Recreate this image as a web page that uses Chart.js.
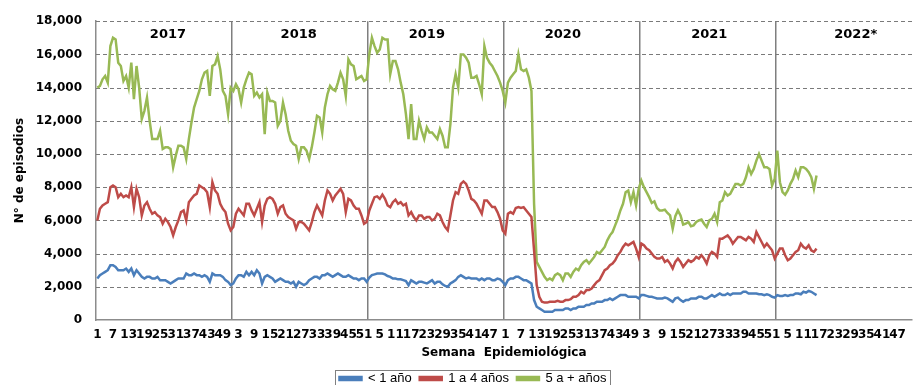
<!DOCTYPE html>
<html>
<head>
<meta charset="utf-8">
<script src="https://cdn.jsdelivr.net/npm/chart.js@4.4.1/dist/chart.umd.min.js"></script>
<style>
  html, body { margin: 0; padding: 0; background: #fff; }
</style>
</head>
<body>
<canvas id="chart" width="923" height="385"></canvas>
<script>
// years on the axis, 52 epidemiological weeks each
const years = ['2017', '2018', '2019', '2020', '2021', '2022*']
const weeksPerYear = 52

// < 1 año
const menor1_2017 = [2500,2700,2800,2900,3000,3300,3300,3200,3000,3000,3000,3100,2900,3100,2700,3000,2800,2600,2500,2600,2600,2500,2500,2600,2400,2400,2400,2300,2200,2300,2400,2500,2500,2500,2800,2700,2700,2800,2700,2700,2600,2700,2600,2300,2800,2700,2700,2700,2600,2400,2300,2100]
const menor1_2018 = [2200,2500,2700,2700,2600,2900,2700,2900,2700,3000,2800,2200,2600,2700,2600,2500,2300,2400,2500,2400,2300,2300,2200,2300,2000,2300,2200,2100,2200,2400,2500,2600,2600,2500,2700,2700,2800,2700,2600,2700,2800,2700,2600,2600,2700,2600,2500,2500,2400,2500,2500,2300]
const menor1_2019 = [2550,2700,2750,2800,2800,2800,2750,2650,2600,2500,2500,2450,2450,2400,2350,2100,2400,2300,2200,2300,2300,2250,2200,2300,2400,2200,2300,2300,2150,2050,2000,2200,2300,2400,2600,2700,2600,2500,2550,2500,2500,2500,2400,2500,2400,2500,2500,2400,2400,2500,2450,2300]
const menor1_2020 = [2100,2400,2500,2500,2600,2600,2500,2400,2400,2300,2200,1200,800,700,600,500,500,500,500,600,600,600,600,700,700,600,700,700,800,800,800,900,900,1000,1000,1100,1100,1100,1200,1200,1300,1200,1300,1400,1500,1500,1500,1400,1400,1400,1400,1300]
const menor1_2021 = [1500,1500,1450,1400,1400,1350,1300,1300,1300,1350,1300,1200,1100,1300,1350,1200,1100,1200,1200,1300,1300,1300,1400,1400,1300,1300,1400,1500,1400,1500,1600,1500,1500,1600,1500,1600,1600,1600,1600,1700,1700,1600,1600,1600,1600,1550,1550,1500,1550,1500,1400,1350]
const menor1_2022 = [1500,1450,1450,1500,1450,1500,1500,1600,1600,1550,1700,1650,1750,1700,1600,1500]

// 1 a 4 años
const de1a4_2017 = [6000,6700,6900,7000,7100,8000,8100,8000,7400,7600,7400,7500,7400,8000,6800,7900,7400,6300,6900,7100,6700,6400,6500,6300,6200,5800,6100,5900,5600,5100,5600,6000,6500,6600,6000,7100,7300,7500,7600,8100,8000,7900,7700,6800,8300,7800,7600,7000,6700,6500,5800,5400]
const de1a4_2018 = [5600,6400,6700,6500,6300,7000,7000,6600,6300,6700,7100,5900,6900,7300,7400,7300,7000,6400,6800,6900,6400,6200,6100,6000,5500,5900,5900,5800,5600,5400,5900,6500,6900,6600,6300,7200,7800,7600,7200,7500,7700,7900,7600,6500,7300,7200,6900,6700,6700,6300,5800,5900]
const de1a4_2019 = [6600,7000,7400,7450,7300,7550,7300,6900,6800,7100,7250,7000,7100,6900,7000,6300,6500,6200,6000,6300,6300,6100,6200,6200,6000,6100,6400,6300,5900,5600,5400,6300,7200,7700,7600,8200,8350,8200,7800,7300,7200,7000,6700,6400,7200,7200,7000,6800,6800,6500,6100,5400]
const de1a4_2020 = [5200,6400,6500,6400,6750,6800,6750,6800,6600,6400,6200,4200,2100,1400,1100,1050,1050,1100,1100,1100,1150,1100,1100,1200,1200,1250,1400,1400,1500,1700,1600,1800,1800,1900,2100,2300,2400,2700,3000,3100,3300,3400,3600,3900,4100,4400,4600,4500,4600,4700,4300,3800]
const de1a4_2021 = [4600,4500,4300,4200,4000,3800,3700,3700,3800,3500,3600,3400,3100,3500,3700,3500,3200,3400,3600,3500,3600,3800,3700,3900,3700,3400,3900,4100,4000,3800,4900,4900,5000,5100,4900,4600,4800,5000,5000,4900,4800,5000,4900,4700,5300,5000,4700,4400,4600,4400,4200,3700]
const de1a4_2022 = [4000,4300,4300,3900,3600,3700,3900,4100,4200,4600,4400,4300,4500,4200,4100,4300]

// 5 a + años
const de5mas_2017 = [14000,14100,14500,14700,14300,16500,17000,16900,15500,15300,14400,14700,14000,15500,13300,15300,14000,12100,12600,13400,12000,10900,10900,10900,11400,10300,10400,10400,10300,9200,9900,10500,10500,10400,9700,10900,11900,12800,13300,13800,14500,14900,15000,13500,15300,15400,15900,15100,13800,13500,12400,14000]
const de5mas_2018 = [13800,14200,13900,13100,14000,14500,14900,14800,13500,13700,13400,13600,11200,13700,13200,13200,13100,11700,12000,13100,12400,11400,10800,10600,10500,9700,10400,10400,10200,9700,10400,11300,12300,12200,11300,12800,13600,14100,13900,13800,14300,14900,14500,13500,15700,15400,15300,14500,14600,14700,14400,14500]
const de5mas_2019 = [16000,17000,16500,16100,16300,17000,16900,16900,14800,15600,15600,15100,14300,13600,12400,10900,13000,10900,10900,12000,11400,10900,11600,11300,11300,11100,10900,11500,11100,10400,10400,11800,14000,14800,14000,16000,16000,15800,15500,14600,14600,14700,14200,13600,16500,15800,15500,15300,15000,14700,14300,13800]
const de5mas_2020 = [13100,14300,14600,14800,15000,16000,15100,15000,15100,14600,13800,7000,3500,3200,2900,2600,2400,2500,2400,2700,2800,2700,2400,2800,2800,2600,2900,3100,3000,3300,3500,3600,3400,3600,3800,4100,4000,4200,4400,4800,5100,5300,5700,6100,6600,7000,7700,7800,7100,7700,6900,7900]
const de5mas_2021 = [8400,8000,7700,7400,7050,7150,6750,6600,6600,6650,6450,6300,5500,6250,6600,6300,5750,5800,5900,5650,5700,5900,6000,6050,5800,5600,6000,6100,6400,5900,7100,7200,7700,7500,7600,7900,8200,8200,8100,8200,8600,9200,8800,9100,9600,10000,9600,9200,9200,9100,8100,8500]
const de5mas_2022 = [10200,8300,7700,7550,7800,8200,8500,9000,8600,9200,9200,9100,8900,8600,7900,8700]

// week of each year where its name is written
const yearLabelWeek = [28, 26, 23, 23, 27, 31]

const labels = []
const weekNums = []
years.forEach(y => {
  for (let w = 1; w <= weeksPerYear; w++) {
    labels.push(y.replace('*', '') + '-' + w)
    weekNums.push(w)
  }
})
const yearStarts = years.map((y, i) => i * weeksPerYear).filter(i => i > 0)

const menor1 = [].concat(menor1_2017, menor1_2018, menor1_2019, menor1_2020, menor1_2021, menor1_2022)
const de1a4 = [].concat(de1a4_2017, de1a4_2018, de1a4_2019, de1a4_2020, de1a4_2021, de1a4_2022)
const de5mas = [].concat(de5mas_2017, de5mas_2018, de5mas_2019, de5mas_2020, de5mas_2021, de5mas_2022)

const boldFont = { family: 'DejaVu Sans', size: 12, weight: 'bold' }

const lineSet = (label, data, color) => ({
  label: label,
  data: data,
  borderColor: color,
  backgroundColor: color,
  borderWidth: 2.5,
  pointRadius: 0,
  tension: 0
})

// dashed horizontal grid, one line per y tick
const dashedGrid = {
  id: 'dashedGrid',
  beforeDatasetsDraw(chart) {
    const { ctx, chartArea } = chart
    const y = chart.scales.y
    ctx.save()
    ctx.strokeStyle = '#7a7a7a'
    ctx.lineWidth = 1
    ctx.setLineDash([4, 3])
    y.ticks.forEach(t => {
      if (t.value === 0) return
      const py = Math.round(y.getPixelForValue(t.value)) + 0.5
      ctx.beginPath()
      ctx.moveTo(chartArea.left, py)
      ctx.lineTo(chartArea.right, py)
      ctx.stroke()
    })
    ctx.restore()
  }
}

// year names above the lines
const yearNames = {
  id: 'yearNames',
  afterDatasetsDraw(chart) {
    const ctx = chart.ctx
    const x = chart.scales.x
    ctx.save()
    ctx.font = 'bold 13px "DejaVu Sans"'
    ctx.fillStyle = '#000'
    ctx.textAlign = 'center'
    ctx.textBaseline = 'middle'
    years.forEach((y, i) => {
      ctx.fillText(y, x.getPixelForValue(i * weeksPerYear + yearLabelWeek[i] - 1), 35)
    })
    ctx.restore()
  }
}

// legend sits a bit right of centre and has a frame
const legendFrame = {
  id: 'legendFrame',
  afterLayout(chart) {
    chart.legend.left += 17
    chart.legend.right += 17
  },
  afterDraw(chart) {
    const lg = chart.legend
    const pad = lg.options.labels.padding
    const lw = lg.lineWidths[0]
    const x0 = (lg.left + pad + lg.right - lw) / 2
    const cy = lg.top + pad + 7
    const ctx = chart.ctx
    ctx.save()
    ctx.strokeStyle = '#808080'
    ctx.lineWidth = 1
    ctx.strokeRect(Math.round(x0 - 4) + 0.5, Math.round(cy - 9) + 0.5, Math.round(lw - pad + 8), 30)
    ctx.restore()
  }
}

const config = {
  type: 'line',
  data: {
    labels: labels,
    datasets: [
      lineSet('< 1 año', menor1, '#4a7ebb'),
      lineSet('1 a 4 años', de1a4, '#be4b48'),
      lineSet('5 a + años', de5mas, '#98b954')
    ]
  },
  options: {
    responsive: false,
    animation: false,
    devicePixelRatio: 1,
    layout: { padding: { top: 21, right: 11, bottom: -10, left: 0 } },
    plugins: {
      tooltip: { enabled: false },
      legend: {
        position: 'bottom',
        labels: {
          boxWidth: 22,
          boxHeight: 3,
          padding: 8,
          color: '#000',
          font: { family: 'Liberation Sans', size: 13 }
        }
      }
    },
    scales: {
      x: {
        offset: true,
        afterFit: s => { s.height = 44 },
        grid: {
          offset: true,
          drawTicks: false,
          lineWidth: 1.5,
          color: c => yearStarts.includes(c.index) ? '#7f7f7f' : 'rgba(0,0,0,0)'
        },
        border: { color: '#8c8c8c', width: 1.5 },
        ticks: {
          autoSkip: false,
          maxRotation: 0,
          minRotation: 0,
          padding: 8,
          color: '#000',
          font: boldFont,
          callback: (v, i) => i % 6 === 0 ? String(weekNums[i]) : ''
        },
        title: {
          display: true,
          text: 'Semana  Epidemiológica',
          color: '#000',
          font: boldFont,
          padding: { top: 0, bottom: 4 }
        }
      },
      y: {
        min: 0,
        max: 18000,
        afterFit: s => { s.width = 96 },
        grid: { display: false, drawTicks: false },
        border: { color: '#8c8c8c', width: 1.5 },
        ticks: {
          stepSize: 2000,
          padding: 14,
          color: '#000',
          font: boldFont
        },
        title: {
          display: true,
          text: 'N° de episodios',
          color: '#000',
          font: boldFont,
          padding: { top: 13, bottom: 0 }
        }
      }
    }
  },
  plugins: [dashedGrid, yearNames, legendFrame]
}

const chart = new Chart(document.getElementById('chart'), config)
</script>
</body>
</html>
